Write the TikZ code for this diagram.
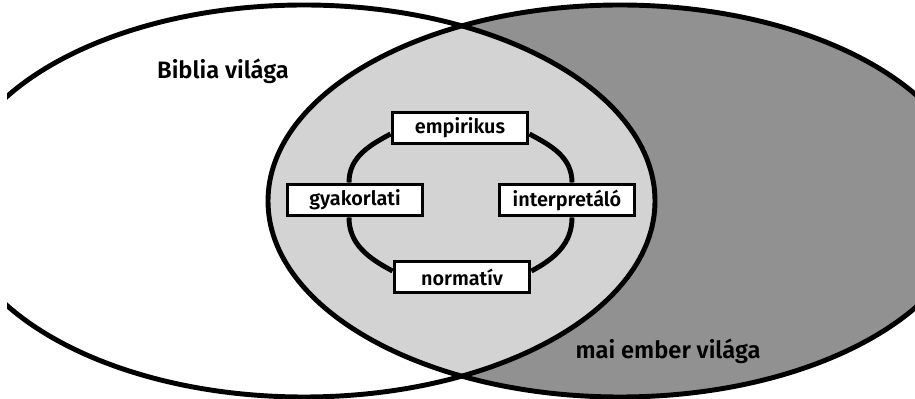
\documentclass[tikz,border=0pt]{standalone}
\usepackage{fontspec}
\setmainfont{Fira Sans}[BoldFont={Fira Sans SemiBold}]
\definecolor{sotet}{HTML}{919191}
\definecolor{vilagos}{HTML}{D3D3D3}

\begin{document}
\begin{tikzpicture}[x=0.2mm,y=0.2mm,
    box/.style={draw,line width=2.2pt,fill=white,inner sep=0pt,
      minimum width=27mm,minimum height=6.2mm,font=\bfseries\fontsize{11.3}{13}\selectfont},
    ring/.style={line width=2.8pt},
    world/.style={anchor=base,font=\bfseries\fontsize{13.5}{16}\selectfont}]
    \useasboundingbox (0,0) rectangle (915,399);
    \clip (7,-5) rectangle (920,404);
    \fill[sotet] (620,198) ellipse [x radius=352,y radius=196];
    \begin{scope}
      \clip (304,198) ellipse [x radius=351,y radius=196];
      \fill[vilagos] (620,198) ellipse [x radius=352,y radius=196];
    \end{scope}
    \draw[ring] (304,198) ellipse [x radius=351,y radius=196];
    \draw[ring] (620,198) ellipse [x radius=352,y radius=196];

    \node[world] (biblia) at (223,320) {Biblia világa};
    \node[world] (mai) at (668,40) {mai ember világa};

    \node[box] (emp) at (460,271) {empirikus};
    \node[box] (gyak) at (355,199) {gyakorlati};
    \node[box] (interp) at (567,199) {interpretáló};
    \node[box] (norm) at (462,122) {normatív};

    \draw[ring] ([xshift=-1.2mm]gyak.north) to[out=90,in=208] ([yshift=-1.2mm]emp.west);
    \draw[ring] ([yshift=-1.2mm]emp.east) to[out=-28,in=90] ([xshift=1mm]interp.north);
    \draw[ring] ([xshift=1mm]interp.south) to[out=-90,in=28] ([yshift=1.2mm]norm.east);
    \draw[ring] ([yshift=1.2mm]norm.west) to[out=152,in=-90] ([xshift=-1.2mm]gyak.south);
  \end{tikzpicture}
\end{document}
